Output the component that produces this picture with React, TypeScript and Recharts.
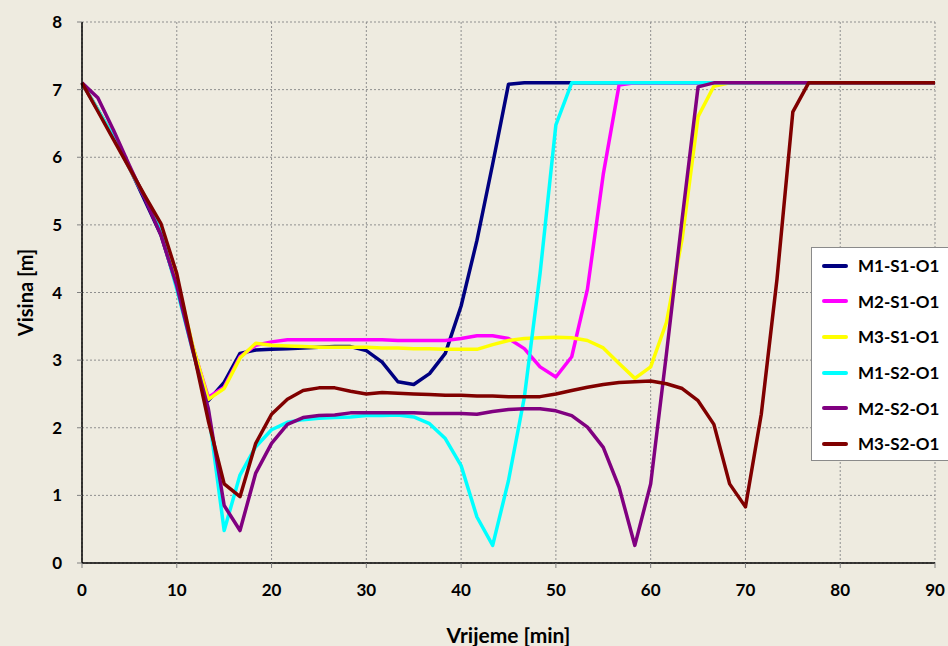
import React from "react";
import { LineChart, Line, XAxis, YAxis, CartesianGrid } from "recharts";

const times = [0, 1.67, 3.33, 5, 6.67, 8.33, 10, 11.67, 13.33, 15, 16.67, 18.33, 20, 21.67, 23.33, 25, 26.67, 28.33, 30, 31.67, 33.33, 35, 36.67, 38.33, 40, 41.67, 43.33, 45, 46.67, 48.33, 50, 51.67, 53.33, 55, 56.67, 58.33, 60, 61.67, 63.33, 65, 66.67, 68.33, 70, 71.67, 73.33, 75, 76.67, 78.33, 80, 81.67, 83.33, 85, 86.67, 88.33, 90];

const m1s1 = [7.1, 6.7, 6.3, 5.85, 5.35, 4.85, 4.1, 3.2, 2.4, 2.67, 3.1, 3.15, 3.16, 3.17, 3.18, 3.19, 3.2, 3.2, 3.14, 2.97, 2.68, 2.64, 2.8, 3.1, 3.8, 4.77, 5.9, 7.08, 7.1, 7.1, 7.1, 7.1, 7.1, 7.1, 7.1, 7.1, 7.1, 7.1, 7.1, 7.1, 7.1, 7.1, 7.1, 7.1, 7.1, 7.1, 7.1, 7.1, 7.1, 7.1, 7.1, 7.1, 7.1, 7.1, 7.1];
const m2s1 = [7.1, 6.7, 6.3, 5.85, 5.4, 4.9, 4.15, 3.2, 2.45, 2.6, 3.05, 3.22, 3.27, 3.3, 3.3, 3.3, 3.3, 3.3, 3.3, 3.3, 3.29, 3.29, 3.29, 3.29, 3.32, 3.36, 3.36, 3.32, 3.17, 2.9, 2.75, 3.05, 4.05, 5.75, 7.07, 7.1, 7.1, 7.1, 7.1, 7.1, 7.1, 7.1, 7.1, 7.1, 7.1, 7.1, 7.1, 7.1, 7.1, 7.1, 7.1, 7.1, 7.1, 7.1, 7.1];
const m3s1 = [7.1, 6.7, 6.3, 5.85, 5.4, 4.9, 4.2, 3.22, 2.42, 2.58, 3.03, 3.25, 3.22, 3.21, 3.2, 3.19, 3.19, 3.19, 3.19, 3.18, 3.18, 3.17, 3.17, 3.16, 3.16, 3.16, 3.23, 3.29, 3.32, 3.33, 3.34, 3.33, 3.29, 3.18, 2.95, 2.73, 2.9, 3.56, 4.8, 6.6, 7.05, 7.1, 7.1, 7.1, 7.1, 7.1, 7.1, 7.1, 7.1, 7.1, 7.1, 7.1, 7.1, 7.1, 7.1];
const m1s2 = [7.1, 6.7, 6.3, 5.85, 5.4, 4.9, 4.05, 3.15, 2.25, 0.48, 1.3, 1.72, 1.97, 2.08, 2.12, 2.14, 2.15, 2.16, 2.18, 2.18, 2.19, 2.16, 2.06, 1.84, 1.44, 0.68, 0.26, 1.22, 2.45, 4.28, 6.48, 7.1, 7.1, 7.1, 7.1, 7.1, 7.1, 7.1, 7.1, 7.1, 7.1, 7.1, 7.1, 7.1, 7.1, 7.1, 7.1, 7.1, 7.1, 7.1, 7.1, 7.1, 7.1, 7.1, 7.1];
const m2s2 = [7.1, 6.88, 6.4, 5.88, 5.38, 4.85, 4.1, 3.15, 2.28, 0.85, 0.48, 1.33, 1.77, 2.05, 2.15, 2.18, 2.19, 2.22, 2.22, 2.22, 2.22, 2.22, 2.21, 2.21, 2.21, 2.2, 2.24, 2.27, 2.28, 2.28, 2.25, 2.18, 2.01, 1.71, 1.12, 0.26, 1.17, 3.1, 5.1, 7.04, 7.1, 7.1, 7.1, 7.1, 7.1, 7.1, 7.1, 7.1, 7.1, 7.1, 7.1, 7.1, 7.1, 7.1, 7.1];
const m3s2 = [7.1, 6.68, 6.26, 5.84, 5.42, 5.02, 4.28, 3.18, 2.1, 1.17, 0.98, 1.77, 2.2, 2.42, 2.55, 2.59, 2.59, 2.54, 2.5, 2.52, 2.51, 2.5, 2.49, 2.48, 2.48, 2.47, 2.47, 2.46, 2.46, 2.46, 2.5, 2.55, 2.6, 2.64, 2.67, 2.68, 2.69, 2.65, 2.58, 2.4, 2.05, 1.17, 0.83, 2.2, 4.2, 6.67, 7.1, 7.1, 7.1, 7.1, 7.1, 7.1, 7.1, 7.1, 7.1];

const seriesNames = ["M1-S1-O1", "M2-S1-O1", "M3-S1-O1", "M1-S2-O1", "M2-S2-O1", "M3-S2-O1"];
const seriesColors = ["#000080", "#FF00FF", "#FFFF00", "#00FFFF", "#800080", "#800000"];
const seriesValues = [m1s1, m2s1, m3s1, m1s2, m2s2, m3s2];

const xTicks = [0, 10, 20, 30, 40, 50, 60, 70, 80, 90];
const yTicks = [0, 1, 2, 3, 4, 5, 6, 7, 8];

const data = times.map((t, i) => {
  const row: Record<string, number> = { t };
  seriesNames.forEach((n, s) => {
    row[n] = seriesValues[s][i];
  });
  return row;
});

const FONT = "Lato, 'Open Sans', sans-serif";

const LegendBox = () => (
  <div
    style={{
      position: "absolute",
      left: 811,
      top: 247,
      background: "#fff",
      border: "1px solid #8a8a8a",
      width: 160,
      height: 214,
      boxSizing: "border-box",
      paddingTop: 0,
    }}
  >
    {seriesNames.map((n, i) => (
      <div key={n} style={{ display: "flex", alignItems: "center", height: 35.6 }}>
        <svg width={46} height={10} style={{ display: "block" }}>
          <line x1={12} y1={5} x2={34} y2={5} stroke={seriesColors[i]} strokeWidth={4} strokeLinecap="round" />
        </svg>
        <span style={{ fontFamily: FONT, fontWeight: 700, fontSize: 17, color: "#000", whiteSpace: "nowrap" }}>{n}</span>
      </div>
    ))}
  </div>
);

const YLabel = (props: any) => {
  const vb = props.viewBox || {};
  const cx = 25;
  const cy = (vb.y || 0) + (vb.height || 0) / 2;
  return (
    <text
      x={cx}
      y={cy}
      transform={`rotate(-90, ${cx}, ${cy})`}
      textAnchor="middle"
      dominantBaseline="central"
      fontFamily={FONT}
      fontWeight={700}
      fontSize={20}
      fill="#000"
    >
      Visina [m]
    </text>
  );
};

export default function App() {
  return (
    <div style={{ position: "absolute", left: 0, top: 0, width: 948, height: 646, background: "#EEEBE0", overflow: "hidden" }}>
      <LineChart width={948} height={646} data={data} margin={{ top: 22, right: 13, bottom: 0, left: 0 }}>
        <CartesianGrid stroke="#8f8f8f" strokeDasharray="2 2" />
        <XAxis
          dataKey="t"
          type="number"
          domain={[0, 90]}
          ticks={xTicks}
          height={83}
          axisLine={{ stroke: "#000", strokeWidth: 1.5 }}
          tickLine={{ stroke: "#808080" }}
          tickSize={5}
          tickMargin={16}
          tick={{ fontFamily: FONT, fontWeight: 700, fontSize: 17, fill: "#000" }}
          label={{ value: "Vrijeme [min]", position: "insideBottom", offset: 3, fontFamily: FONT, fontWeight: 700, fontSize: 21, fill: "#000" }}
        />
        <YAxis
          type="number"
          domain={[0, 8]}
          ticks={yTicks}
          width={82}
          axisLine={{ stroke: "#000", strokeWidth: 1.5 }}
          tickLine={{ stroke: "#808080" }}
          tickSize={5}
          tickMargin={15}
          tick={{ fontFamily: FONT, fontWeight: 700, fontSize: 17, fill: "#000" }}
          label={<YLabel />}
        />
        {seriesNames.map((n, i) => (
          <Line
            key={n}
            type="linear"
            dataKey={n}
            stroke={seriesColors[i]}
            strokeWidth={3.5}
            dot={false}
            isAnimationActive={false}
            strokeLinejoin="round"
          />
        ))}
      </LineChart>
      <LegendBox />
    </div>
  );
}
